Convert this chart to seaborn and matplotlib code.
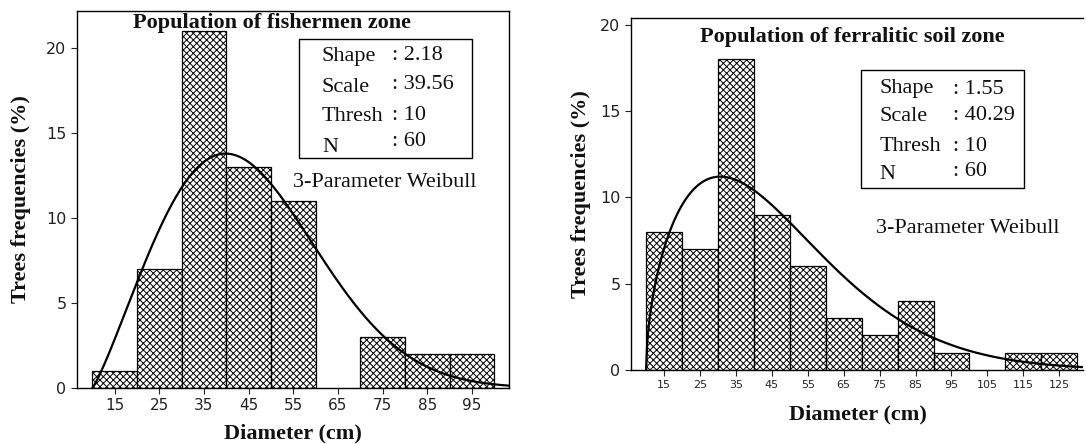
import numpy as np
import pandas as pd
import matplotlib
matplotlib.use("Agg")
import matplotlib.pyplot as plt
import seaborn as sns
from matplotlib.patches import Rectangle

sns.set_theme(style="white")
plt.rcParams['font.family'] = ['DejaVu Sans']
plt.rcParams['hatch.linewidth'] = 0.7
plt.rcParams['hatch.color'] = '#222222'

# ---------------- data ----------------
bin_edges_fish = [10, 20, 30, 40, 50, 60, 70, 80, 90, 100]
freq_fish = [1, 7, 21, 13, 11, 0, 3, 2, 2]
ticks_fish = [15, 25, 35, 45, 55, 65, 75, 85, 95]
params_fish = {"Shape": 2.18, "Scale": 39.56, "Thresh": 10, "N": 60}
title_fish = "Population of fishermen zone"

bin_edges_ferr = [10, 20, 30, 40, 50, 60, 70, 80, 90, 100, 110, 120, 130]
freq_ferr = [8, 7, 18, 9, 6, 3, 2, 4, 1, 0, 1, 1]
ticks_ferr = [15, 25, 35, 45, 55, 65, 75, 85, 95, 105, 115, 125]
params_ferr = {"Shape": 1.55, "Scale": 40.29, "Thresh": 10, "N": 60}
title_ferr = "Population of ferralitic soil zone"

value_labels_fish = ["2.18", "39.56", "10", "60"]
value_labels_ferr = ["1.55", "40.29", "10", "60"]

SERIF = ['Liberation Serif', 'DejaVu Serif']


def weibull_curve(params, width, x_max):
    k, lam, th, n = params["Shape"], params["Scale"], params["Thresh"], params["N"]
    x = np.linspace(th + 1e-6, x_max, 400)
    z = (x - th) / lam
    pdf = (k / lam) * z ** (k - 1) * np.exp(-z ** k)
    return pd.DataFrame({"x": x, "y": pdf * n * width})


def draw_panel(ax, edges, freqs, ticks, params, vals, title, xlim, ylim,
               xtick_fs, box, lab_pos, val_pos, weib_pos, title_pos):
    mids = [(a + b) / 2 for a, b in zip(edges[:-1], edges[1:])]
    df = pd.DataFrame({"mid": mids, "freq": freqs})
    sns.histplot(data=df, x="mid", weights="freq", bins=edges, ax=ax,
                 color="white", edgecolor="black", linewidth=0.9, alpha=1)
    for p in ax.patches:
        p.set_hatch("xxxxx")
        p.set_facecolor("white")
        if p.get_height() == 0:
            p.set_visible(False)
    cdf = weibull_curve(params, edges[1] - edges[0], xlim[1])
    sns.lineplot(data=cdf, x="x", y="y", ax=ax, color="black", linewidth=1.6)
    ax.set_xlim(*xlim)
    ax.set_ylim(*ylim)
    ax.set_xticks(ticks)
    ax.set_yticks([0, 5, 10, 15, 20])
    ax.tick_params(axis="x", labelsize=xtick_fs, colors="#222222", length=4, width=0.8,
                   bottom=True, direction="out")
    ax.tick_params(axis="y", labelsize=11.5, colors="#222222", length=4, width=0.8,
                   left=True, direction="out")
    ax.set_xlabel("Diameter (cm)", family=SERIF, fontweight="bold", fontsize=16,
                  color="#111111")
    ax.set_ylabel("Trees frequencies (%)", family=SERIF, fontweight="bold",
                  fontsize=16, color="#111111")
    for s in ax.spines.values():
        s.set_color("black")
        s.set_linewidth(1.0)
    ax.text(title_pos[0], title_pos[1], title, transform=ax.transAxes,
            ha="center", va="center", family=SERIF, fontweight="bold",
            fontsize=16, color="#111111")
    x0, x1, y0, y1 = box
    ax.add_patch(Rectangle((x0, y0), x1 - x0, y1 - y0, transform=ax.transAxes,
                           fill=False, edgecolor="black", linewidth=1.0, zorder=5))
    for name, yv in zip(params.keys(), lab_pos[1]):
        ax.text(lab_pos[0], yv, name, transform=ax.transAxes, ha="left",
                va="center", family=SERIF, fontsize=16, color="#111111")
    for v, yv in zip(vals, val_pos[1]):
        ax.text(val_pos[0], yv, ": " + v, transform=ax.transAxes, ha="left",
                va="center", family=SERIF, fontsize=16, color="#111111")
    ax.text(weib_pos[0], weib_pos[1], "3-Parameter Weibull", transform=ax.transAxes,
            ha="left", va="center", family=SERIF, fontsize=16, color="#111111")


fig = plt.figure(figsize=(10.86, 4.44), dpi=100)
ax1 = fig.add_axes([77 / 1086, 1 - 388 / 444, (509 - 77) / 1086, (388 - 11) / 444])
ax2 = fig.add_axes([631 / 1086, 1 - 370 / 444, (1083 - 631) / 1086, (370 - 18) / 444])

draw_panel(ax1, bin_edges_fish, freq_fish, ticks_fish, params_fish, value_labels_fish,
           title_fish, (6.6, 103.3), (0, 22.2), 11,
           (0.514, 0.914, 0.610, 0.926),
           (0.567, [0.878, 0.796, 0.719, 0.639]),
           (0.729, [0.883, 0.804, 0.724, 0.653]),
           (0.500, 0.544), (0.451, 0.968))
draw_panel(ax2, bin_edges_ferr, freq_ferr, ticks_ferr, params_ferr, value_labels_ferr,
           title_ferr, (5.8, 131.6), (0, 20.4), 8,
           (0.509, 0.869, 0.517, 0.852),
           (0.549, [0.801, 0.719, 0.636, 0.554]),
           (0.712, [0.798, 0.724, 0.634, 0.563]),
           (0.542, 0.403), (0.489, 0.946))
ax2.spines["right"].set_visible(False)

ax1.xaxis.set_label_coords(0.5, -0.093)
ax1.yaxis.set_label_coords(-0.106, 0.5)
ax2.xaxis.set_label_coords(0.502, -0.098)
ax2.yaxis.set_label_coords(-0.088, 0.5)

fig.savefig("out.png", dpi=100, facecolor="white")
